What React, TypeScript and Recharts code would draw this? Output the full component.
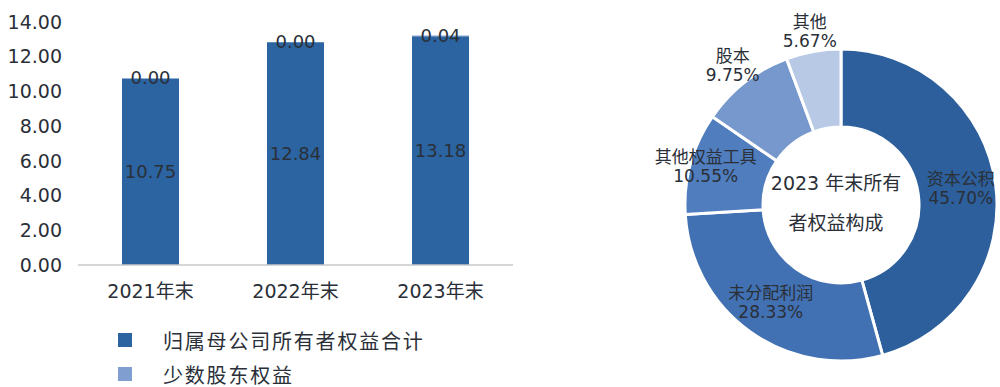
import React from 'react';
import {
  BarChart,
  Bar,
  XAxis,
  YAxis,
  Legend,
  LabelList,
  PieChart,
  Pie,
  Cell,
} from 'recharts';

const years = ['2021年末', '2022年末', '2023年末'];
const parentEquity = [10.75, 12.84, 13.18];
const minorityEquity = [0.0, 0.0, 0.04];
const yTicks = [0, 2, 4, 6, 8, 10, 12, 14];

const equityNames = ['资本公积', '未分配利润', '其他权益工具', '股本', '其他'];
const equityShares = [45.7, 28.33, 10.55, 9.75, 5.67];

const FONT = '"DejaVu Sans", "Noto Sans CJK SC", sans-serif';
const TEXT = '#2a2f38';
const BAR_DARK = '#2b64a0';
const BAR_LIGHT = '#809fd0';
const PIE_COLORS = ['#2c5f9b', '#4171b2', '#4f7dbd', '#7798cc', '#b8c9e6'];

const barData = years.map((year, i) => ({
  year,
  parent: parentEquity[i],
  minority: minorityEquity[i],
}));

const pieData = equityNames.map((name, i) => ({
  name,
  value: equityShares[i],
}));

const seriesLabels = [
  { key: 'parent', name: '归属母公司所有者权益合计', color: BAR_DARK },
  { key: 'minority', name: '少数股东权益', color: BAR_LIGHT },
];

const BarLegend = () => (
  <div style={{ fontFamily: FONT }}>
    {seriesLabels.map((s) => (
      <div
        key={s.key}
        style={{ display: 'flex', alignItems: 'center', height: 34 }}
      >
        <span
          style={{
            display: 'inline-block',
            width: 14,
            height: 14,
            background: s.color,
            marginRight: 31,
          }}
        />
        <span style={{ fontSize: 20, letterSpacing: 1.8, color: TEXT }}>
          {s.name}
        </span>
      </div>
    ))}
  </div>
);

// minority values are ~0, so their labels sit on the top edge of the stack
const StackTopLabel = (props: any) => {
  const { x, y, width, value } = props;
  return (
    <text
      x={x + width / 2}
      y={y - 1}
      textAnchor="middle"
      dominantBaseline="central"
      fill={TEXT}
      fontSize={18}
      fontFamily={FONT}
    >
      {Number(value).toFixed(2)}
    </text>
  );
};

const RADIAN = Math.PI / 180;

const renderPieLabel = (props: any) => {
  const { cx, cy, midAngle, innerRadius, outerRadius, percent, index } = props;
  let r: number;
  if (percent > 0.2) r = innerRadius + (outerRadius - innerRadius) * 0.55;
  else if (percent >= 0.1) r = innerRadius + (outerRadius - innerRadius) * 0.8;
  else r = outerRadius + 20;
  const x = cx + r * Math.cos(-midAngle * RADIAN);
  const y = cy + r * Math.sin(-midAngle * RADIAN);
  return (
    <text
      x={x}
      y={y}
      textAnchor="middle"
      fill={TEXT}
      fontSize={17}
      fontFamily={FONT}
    >
      <tspan x={x} dy={-4}>
        {pieData[index].name}
      </tspan>
      <tspan x={x} dy={19}>
        {pieData[index].value.toFixed(2)}%
      </tspan>
    </text>
  );
};

export default function App() {
  return (
    <div
      style={{
        position: 'absolute',
        left: 0,
        top: 0,
        width: 1000,
        height: 387,
        background: '#fff',
      }}
    >
      <div style={{ position: 'absolute', left: 0, top: 0 }}>
        <BarChart
          width={520}
          height={387}
          data={barData}
          margin={{ top: 22, right: 7, left: 0, bottom: 92 }}
        >
          <XAxis
            dataKey="year"
            height={30}
            tickLine={false}
            tickSize={6}
            tickMargin={14}
            axisLine={{ stroke: '#c9c9c9', strokeWidth: 1.5 }}
            tick={{ fill: TEXT, fontSize: 19, fontFamily: FONT }}
          />
          <YAxis
            width={78}
            domain={[0, 14]}
            ticks={yTicks}
            interval={0}
            axisLine={false}
            tickLine={false}
            tickMargin={10}
            tickFormatter={(v: number) => v.toFixed(2)}
            tick={{ fill: TEXT, fontSize: 19, fontFamily: FONT }}
          />
          <Legend
            layout="vertical"
            verticalAlign="middle"
            align="center"
            content={<BarLegend />}
            wrapperStyle={{ top: 323, left: 118, width: 400 }}
          />
          <Bar
            dataKey="parent"
            stackId="a"
            fill={BAR_DARK}
            barSize={57}
            isAnimationActive={false}
          >
            <LabelList
              dataKey="parent"
              position="center"
              fill={TEXT}
              fontSize={18}
              fontFamily={FONT}
              formatter={(v: any) => Number(v).toFixed(2)}
            />
            <LabelList dataKey="minority" content={<StackTopLabel />} />
          </Bar>
          <Bar
            dataKey="minority"
            stackId="a"
            fill={BAR_LIGHT}
            barSize={57}
            isAnimationActive={false}
          />
        </BarChart>
      </div>
      <div style={{ position: 'absolute', left: 640, top: 0 }}>
        <PieChart width={360} height={387}>
          <Pie
            data={pieData}
            dataKey="value"
            nameKey="name"
            cx={196}
            cy={200}
            innerRadius={78}
            outerRadius={156}
            startAngle={90}
            endAngle={-270}
            stroke="#fff"
            strokeWidth={3}
            label={renderPieLabel}
            labelLine={false}
            isAnimationActive={false}
          >
            {pieData.map((d, i) => (
              <Cell key={d.name} fill={PIE_COLORS[i]} />
            ))}
          </Pie>
        </PieChart>
        <div
          style={{
            position: 'absolute',
            left: 196 - 80,
            top: 163,
            width: 160,
            textAlign: 'center',
            fontFamily: FONT,
            fontSize: 19,
            lineHeight: '40px',
            color: TEXT,
            pointerEvents: 'none',
          }}
        >
          <div>2023 年末所有</div>
          <div>者权益构成</div>
        </div>
      </div>
    </div>
  );
}
